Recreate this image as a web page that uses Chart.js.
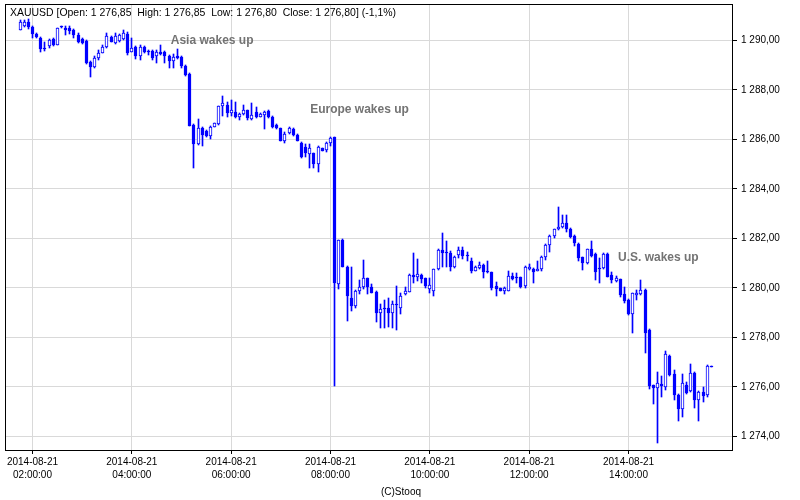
<!DOCTYPE html>
<html lang="en">
<head>
  <meta charset="UTF-8">
  <title>XAUUSD 2014-08-21</title>
  <script src="https://cdn.jsdelivr.net/npm/chart.js"></script>
  <style>
    body { margin: 0; background-color: #fff; }
    #wrap { width: 800px; height: 500px; }
  </style>
</head>
<body>
  <div id="wrap"><canvas id="xau" width="800" height="500"></canvas></div>

  <script>
    // 5-minute candles, 01:45 .. 15:40 (minutes from midnight)
    const startMinute = 105;
    const opens = [
      1290.42, 1290.59, 1290.76, 1290.56, 1290.26, 1290.09, 1289.68, 1289.78, 1290.05, 1289.82,
      1290.55, 1290.49, 1290.49, 1290.42, 1290.22, 1290.05, 1289.99, 1289.14, 1288.94, 1289.28,
      1289.51, 1289.73, 1290.15, 1289.91, 1289.98, 1290.05, 1290.26, 1289.55, 1289.75, 1289.35,
      1289.75, 1289.55, 1289.59, 1289.35, 1289.52, 1289.55, 1289.37, 1289.18, 1289.37, 1289.32,
      1288.97, 1288.65, 1286.59, 1285.82, 1286.45, 1286.34, 1286.14, 1286.52, 1286.63, 1287.33,
      1287.40, 1287.06, 1287.10, 1286.90, 1287.03, 1287.17, 1286.82, 1287.12, 1286.92, 1287.00,
      1287.16, 1286.90, 1286.59, 1286.45, 1285.95, 1286.25, 1286.41, 1286.18, 1285.87, 1285.68,
      1285.42, 1285.44, 1285.01, 1285.64, 1285.58, 1285.85, 1286.09, 1280.15, 1281.94, 1280.86,
      1279.58, 1279.28, 1279.89, 1280.03, 1280.39, 1280.03, 1279.85, 1278.98, 1279.15, 1279.18,
      1278.98, 1279.31, 1279.18, 1279.76, 1279.85, 1280.53, 1280.43, 1280.53, 1280.39, 1279.96,
      1279.89, 1280.76, 1281.54, 1281.42, 1281.40, 1280.86, 1281.34, 1281.54, 1281.31, 1281.10,
      1280.70, 1280.80, 1280.93, 1280.65, 1280.64, 1280.08, 1279.99, 1279.89, 1279.89, 1280.49,
      1280.40, 1280.43, 1280.08, 1280.75, 1280.77, 1280.70, 1280.76, 1281.26, 1281.74, 1282.10,
      1282.37, 1282.45, 1282.64, 1282.37, 1282.10, 1281.78, 1281.24, 1281.00, 1281.56, 1281.37,
      1280.80, 1280.80, 1281.37, 1280.53, 1280.26, 1280.35, 1279.76, 1279.52, 1278.95, 1279.70,
      1279.76, 1279.92, 1278.30, 1276.07, 1275.95, 1276.12, 1276.01, 1277.25, 1276.53, 1275.68,
      1275.10, 1276.08, 1275.85, 1276.58, 1275.45, 1275.81, 1275.68, 1276.85
    ];
    const highs = [
      1290.83, 1290.83, 1290.85, 1290.60, 1290.30, 1290.12, 1289.95, 1290.05, 1290.08, 1290.52,
      1290.57, 1290.60, 1290.60, 1290.45, 1290.30, 1290.08, 1290.02, 1289.16, 1289.35, 1289.62,
      1289.80, 1290.30, 1290.18, 1290.30, 1290.25, 1290.40, 1290.35, 1290.09, 1289.77, 1289.80,
      1289.77, 1289.60, 1289.62, 1289.60, 1289.82, 1289.57, 1289.40, 1289.45, 1289.66, 1289.35,
      1289.00, 1288.67, 1286.61, 1286.82, 1286.50, 1286.36, 1286.55, 1286.68, 1287.35, 1287.76,
      1287.50, 1287.60, 1287.50, 1287.06, 1287.40, 1287.20, 1287.46, 1287.30, 1287.08, 1287.15,
      1287.20, 1286.93, 1286.62, 1286.48, 1286.30, 1286.50, 1286.44, 1286.20, 1285.90, 1285.80,
      1285.80, 1285.47, 1285.72, 1285.67, 1285.88, 1286.09, 1286.10, 1281.94, 1281.96, 1280.88,
      1280.86, 1279.92, 1280.30, 1281.13, 1280.41, 1280.15, 1279.87, 1279.35, 1279.52, 1279.58,
      1279.45, 1280.08, 1279.80, 1280.05, 1280.55, 1281.40, 1281.16, 1280.56, 1280.41, 1280.39,
      1280.78, 1281.56, 1282.21, 1281.90, 1281.50, 1281.27, 1281.65, 1281.65, 1281.45, 1281.20,
      1280.87, 1281.05, 1280.95, 1281.10, 1280.66, 1280.25, 1280.01, 1280.02, 1280.69, 1280.60,
      1280.62, 1280.45, 1280.88, 1280.95, 1280.80, 1281.10, 1281.28, 1281.76, 1282.12, 1282.39,
      1283.28, 1282.95, 1282.95, 1282.40, 1282.12, 1281.80, 1281.26, 1281.58, 1281.90, 1281.40,
      1281.20, 1281.39, 1281.40, 1280.65, 1280.50, 1280.37, 1280.05, 1279.54, 1279.80, 1279.92,
      1280.32, 1279.94, 1278.32, 1276.09, 1276.62, 1276.42, 1277.47, 1277.27, 1276.69, 1275.70,
      1276.53, 1276.20, 1276.93, 1276.60, 1275.85, 1275.99, 1276.87, 1276.85
    ];
    const lows = [
      1290.40, 1290.55, 1290.45, 1290.11, 1290.10, 1289.55, 1289.59, 1289.70, 1289.78, 1289.80,
      1290.50, 1290.20, 1290.25, 1290.10, 1289.90, 1289.85, 1289.05, 1288.54, 1288.89, 1289.20,
      1289.48, 1289.68, 1289.92, 1289.85, 1289.95, 1290.00, 1289.42, 1289.55, 1289.24, 1289.20,
      1289.50, 1289.40, 1289.20, 1289.10, 1289.42, 1289.07, 1288.90, 1288.90, 1289.26, 1288.90,
      1288.58, 1286.54, 1284.84, 1285.78, 1285.74, 1286.10, 1286.00, 1286.50, 1286.60, 1286.95,
      1286.90, 1286.95, 1286.88, 1286.80, 1286.98, 1286.80, 1286.78, 1286.88, 1286.90, 1286.41,
      1286.88, 1286.48, 1286.42, 1285.92, 1285.85, 1286.22, 1286.15, 1285.92, 1285.25, 1285.30,
      1284.84, 1284.85, 1284.70, 1285.52, 1285.50, 1285.74, 1276.04, 1279.95, 1280.84, 1278.68,
      1279.05, 1279.20, 1279.75, 1279.95, 1279.75, 1279.78, 1278.64, 1278.38, 1278.37, 1278.41,
      1278.37, 1278.30, 1278.96, 1279.72, 1279.82, 1280.19, 1280.27, 1280.19, 1280.00, 1279.79,
      1279.68, 1280.74, 1280.86, 1280.86, 1280.70, 1280.82, 1281.20, 1281.15, 1281.10, 1280.60,
      1280.68, 1280.78, 1280.39, 1280.60, 1279.92, 1279.68, 1279.86, 1279.76, 1279.87, 1280.30,
      1280.20, 1279.98, 1279.98, 1280.73, 1280.19, 1280.68, 1280.70, 1281.13, 1281.47, 1282.00,
      1282.34, 1282.40, 1282.25, 1282.02, 1281.70, 1281.10, 1280.73, 1280.95, 1281.25, 1280.32,
      1280.19, 1280.76, 1280.44, 1280.20, 1280.24, 1279.62, 1279.38, 1278.90, 1278.19, 1279.50,
      1279.70, 1277.36, 1275.91, 1275.31, 1273.75, 1275.61, 1275.88, 1276.46, 1275.45, 1274.64,
      1274.78, 1275.70, 1275.80, 1275.14, 1274.64, 1275.37, 1275.60, 1276.80
    ];
    const closes = [
      1290.76, 1290.76, 1290.53, 1290.26, 1290.15, 1289.64, 1289.64, 1290.02, 1289.82, 1290.49,
      1290.53, 1290.40, 1290.36, 1290.22, 1289.93, 1289.89, 1289.08, 1288.92, 1289.28, 1289.51,
      1289.73, 1290.18, 1289.95, 1290.18, 1290.20, 1290.29, 1289.48, 1289.69, 1289.35, 1289.75,
      1289.55, 1289.55, 1289.28, 1289.52, 1289.44, 1289.35, 1289.18, 1289.32, 1289.28, 1288.97,
      1288.60, 1286.56, 1285.82, 1286.45, 1286.18, 1286.14, 1286.49, 1286.65, 1287.33, 1287.49,
      1287.06, 1287.19, 1286.92, 1287.03, 1287.17, 1286.86, 1287.00, 1286.92, 1287.03, 1287.12,
      1286.92, 1286.52, 1286.45, 1285.95, 1286.22, 1286.45, 1286.18, 1285.95, 1285.30, 1285.44,
      1285.64, 1285.01, 1285.68, 1285.55, 1285.85, 1286.05, 1280.21, 1281.94, 1280.86, 1279.69,
      1279.25, 1279.89, 1280.03, 1280.39, 1280.05, 1279.81, 1278.98, 1279.14, 1279.14, 1278.98,
      1279.35, 1279.30, 1279.68, 1279.89, 1280.53, 1280.43, 1280.57, 1280.35, 1280.08, 1280.12,
      1280.76, 1281.54, 1281.42, 1281.40, 1280.86, 1281.24, 1281.54, 1281.30, 1281.30, 1280.70,
      1280.85, 1280.93, 1280.66, 1280.64, 1280.00, 1279.95, 1279.89, 1279.99, 1280.49, 1280.35,
      1280.39, 1280.03, 1280.86, 1280.86, 1280.66, 1280.78, 1281.26, 1281.74, 1282.10, 1282.37,
      1282.45, 1282.64, 1282.37, 1282.05, 1281.80, 1281.20, 1281.00, 1281.56, 1281.30, 1280.66,
      1280.76, 1281.37, 1280.46, 1280.30, 1280.39, 1279.72, 1279.45, 1278.95, 1279.78, 1279.81,
      1279.92, 1278.17, 1276.04, 1275.95, 1276.15, 1276.04, 1277.33, 1276.48, 1275.68, 1275.10,
      1276.15, 1275.75, 1276.55, 1275.45, 1275.81, 1275.64, 1276.85, 1276.80
    ];

    const xTicks = [120, 240, 360, 480, 600, 720, 840];
    const yTicks = [1274, 1276, 1278, 1280, 1282, 1284, 1286, 1288, 1290];
    const tickDate = "2014-08-21";
    const titleText = "XAUUSD [Open: 1 276,85  High: 1 276,85  Low: 1 276,80  Close: 1 276,80] (-1,1%)";
    const notes = [
      { text: "Asia wakes up", x: 337, y: 1290.0 },
      { text: "Europe wakes up", x: 515, y: 1287.2 },
      { text: "U.S. wakes up", x: 876, y: 1281.2 }
    ];

    const minutes = opens.map((o, i) => startMinute + i * 5);
    const bodies = minutes.map((m, i) => ({ x: m, y: [Math.min(opens[i], closes[i]), Math.max(opens[i], closes[i])] }));
    const wicks = minutes.map((m, i) => ({ x: m, y: [lows[i], highs[i]] }));
    const bodyFill = minutes.map((m, i) => closes[i] > opens[i] ? '#ffffff' : '#0000ff');

    function fmtPrice(v) {
      const parts = v.toFixed(2).split('.');
      return parts[0].replace(/\B(?=(\d{3})+(?!\d))/g, ' ') + ',' + parts[1];
    }
    function fmtTime(m) {
      const h = Math.floor(m / 60), mm = m % 60;
      return (h < 10 ? '0' : '') + h + ':' + (mm < 10 ? '0' : '') + mm + ':00';
    }

    // snap bars to whole pixels so the candles stay crisp
    const snapBars = {
      id: 'snapBars',
      beforeDatasetsDraw(chart) {
        chart.data.datasets.forEach((ds, di) => {
          chart.getDatasetMeta(di).data.forEach(el => {
            el.x = Math.floor(el.x) + 0.5;
            let top = Math.round(el.y), base = Math.round(el.base);
            if (top === base) top = base - 1;
            el.y = top; el.base = base;
          });
        });
      }
    };

    const extras = {
      id: 'extras',
      beforeDraw(chart) {
        const c = chart.ctx;
        c.save();
        c.fillStyle = '#fff';
        c.fillRect(0, 0, chart.width, chart.height);
        c.restore();
      },
      afterDatasetsDraw(chart) {
        const c = chart.ctx, xs = chart.scales.x, ys = chart.scales.y;
        c.save();
        c.font = 'bold 12px Arial, "Liberation Sans", sans-serif';
        c.fillStyle = '#737373';
        c.textAlign = 'center';
        c.textBaseline = 'middle';
        notes.forEach(n => c.fillText(n.text, xs.getPixelForValue(n.x), ys.getPixelForValue(n.y)));
        c.restore();
      },
      afterDraw(chart) {
        const c = chart.ctx, a = chart.chartArea;
        c.save();
        c.strokeStyle = '#000';
        c.lineWidth = 1;
        c.strokeRect(Math.round(a.left) + 0.5, Math.round(a.top) + 0.5,
          Math.round(a.right - a.left) - 1, Math.round(a.bottom - a.top));
        c.font = '11px Arial, "Liberation Sans", sans-serif';
        c.fillStyle = '#000';
        c.textBaseline = 'middle';
        c.textAlign = 'left';
        c.fillText(titleText, 10, 13, 386);
        c.font = '10px Arial, "Liberation Sans", sans-serif';
        c.textAlign = 'center';
        c.fillText('(C)Stooq', 401, 492);
        c.restore();
      }
    };

    const ctx = document.getElementById('xau').getContext('2d');
    new Chart(ctx, {
      type: 'bar',
      data: {
        datasets: [
          {
            label: 'body',
            data: bodies,
            backgroundColor: bodyFill,
            borderColor: '#0000ff',
            borderWidth: 1,
            borderSkipped: false,
            barThickness: 3,
            grouped: false,
            minBarLength: 1
          },
          {
            label: 'wick',
            data: wicks,
            backgroundColor: '#0000ff',
            borderWidth: 0,
            barThickness: 1,
            grouped: false,
            minBarLength: 1
          }
        ]
      },
      options: {
        responsive: false,
        animation: false,
        devicePixelRatio: 1,
        layout: { padding: { left: 5, top: 4, right: 0, bottom: 0 } },
        plugins: {
          legend: { display: false },
          tooltip: { enabled: false }
        },
        scales: {
          x: {
            type: 'linear',
            min: 86.8,
            max: 966.2,
            offset: false,
            grid: { offset: false, color: '#d9d9d9', tickColor: '#000', tickLength: 4 },
            border: { display: false },
            afterBuildTicks: s => { s.ticks = xTicks.map(v => ({ value: v })); },
            afterFit: s => { s.height = 50; s.paddingLeft = 0; s.paddingRight = 0; },
            ticks: {
              maxRotation: 0,
              autoSkip: false,
              padding: 2,
              color: '#000',
              font: { family: 'Arial, "Liberation Sans", sans-serif', size: 10, lineHeight: 1.3 },
              callback: v => [tickDate, fmtTime(v)]
            }
          },
          y: {
            position: 'right',
            min: 1273.45,
            max: 1291.47,
            grid: { color: '#d9d9d9', tickColor: '#000', tickLength: 4 },
            border: { display: false },
            afterBuildTicks: s => { s.ticks = yTicks.map(v => ({ value: v })); },
            afterFit: s => { s.width = 67; s.paddingTop = 0; s.paddingBottom = 0; },
            ticks: {
              padding: 4,
              color: '#000',
              font: { family: 'Arial, "Liberation Sans", sans-serif', size: 10 },
              callback: v => fmtPrice(v)
            }
          }
        }
      },
      plugins: [snapBars, extras]
    });
  </script>
</body>
</html>
